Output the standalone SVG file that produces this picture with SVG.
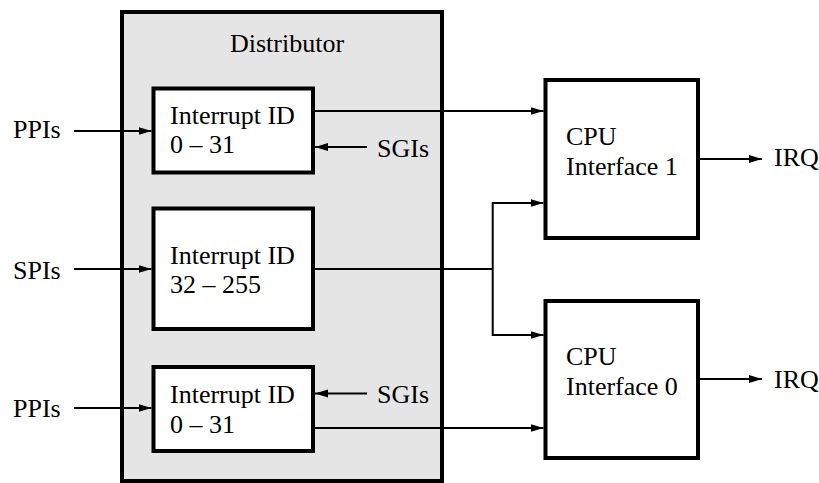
<svg xmlns="http://www.w3.org/2000/svg" width="819" height="483" viewBox="0 0 819 483">
<style>
text{font-family:"Liberation Serif","Times New Roman",serif;font-size:26px;fill:#000}
.box{fill:#fff;stroke:#000;stroke-width:4}
.dist{fill:#e5e5e5;stroke:#000;stroke-width:4}
.c{fill:none;stroke:#000;stroke-width:2}
.a{fill:none;stroke:#000;stroke-width:2;marker-end:url(#ah)}
</style>
<defs>
<marker id="ah" markerUnits="userSpaceOnUse" markerWidth="14" markerHeight="10" refX="13" refY="4.5" orient="auto">
<path d="M0,0.5 L13,4.5 L0,8.5 Z" fill="#000"/>
</marker>
</defs>
<rect width="819" height="483" fill="#fff"/>
<g id="distributor">
<rect class="dist" x="122" y="12" width="320" height="469"/>
<text x="287" y="52" text-anchor="middle">Distributor</text>
</g>
<g id="ppi1">
<rect class="box" x="153.5" y="88.5" width="159.5" height="84"/>
<text x="170" y="124">Interrupt ID</text>
<text x="170" y="153">0 – 31</text>
</g>
<g id="spi">
<rect class="box" x="153.5" y="208.5" width="159.5" height="120.5"/>
<text x="170" y="264">Interrupt ID</text>
<text x="170" y="293">32 – 255</text>
</g>
<g id="ppi0">
<rect class="box" x="153.5" y="367" width="159.5" height="84"/>
<text x="170" y="403">Interrupt ID</text>
<text x="170" y="433">0 – 31</text>
</g>
<g id="cpu1">
<rect class="box" x="545.5" y="80" width="152.5" height="158"/>
<text x="566" y="145">CPU</text>
<text x="566" y="175">Interface 1</text>
</g>
<g id="cpu0">
<rect class="box" x="545.5" y="301" width="152.5" height="157"/>
<text x="566" y="365">CPU</text>
<text x="566" y="395">Interface 0</text>
</g>
<g id="labels">
<text x="13" y="138">PPIs</text>
<text x="13" y="279">SPIs</text>
<text x="13" y="417">PPIs</text>
<text x="377" y="157">SGIs</text>
<text x="377" y="403">SGIs</text>
<text x="774" y="166">IRQ</text>
<text x="774" y="388">IRQ</text>
</g>
<g id="connectors">
<line class="a" x1="74" y1="131" x2="151.5" y2="131"/>
<line class="a" x1="74" y1="269" x2="151.5" y2="269"/>
<line class="a" x1="74" y1="408" x2="151.5" y2="408"/>
<line class="a" x1="367" y1="147" x2="315" y2="147"/>
<line class="a" x1="367" y1="393.5" x2="315" y2="393.5"/>
<line class="a" x1="315" y1="111" x2="543.5" y2="111"/>
<polyline class="c" points="315,269 492.7,269"/>
<polyline class="a" points="492.7,269 492.7,203 543.5,203"/>
<polyline class="a" points="492.7,269 492.7,335 543.5,335"/>
<line class="a" x1="315" y1="428" x2="543.5" y2="428"/>
<line class="a" x1="700" y1="159" x2="762" y2="159"/>
<line class="a" x1="700" y1="379" x2="762" y2="379"/>
</g>
</svg>
